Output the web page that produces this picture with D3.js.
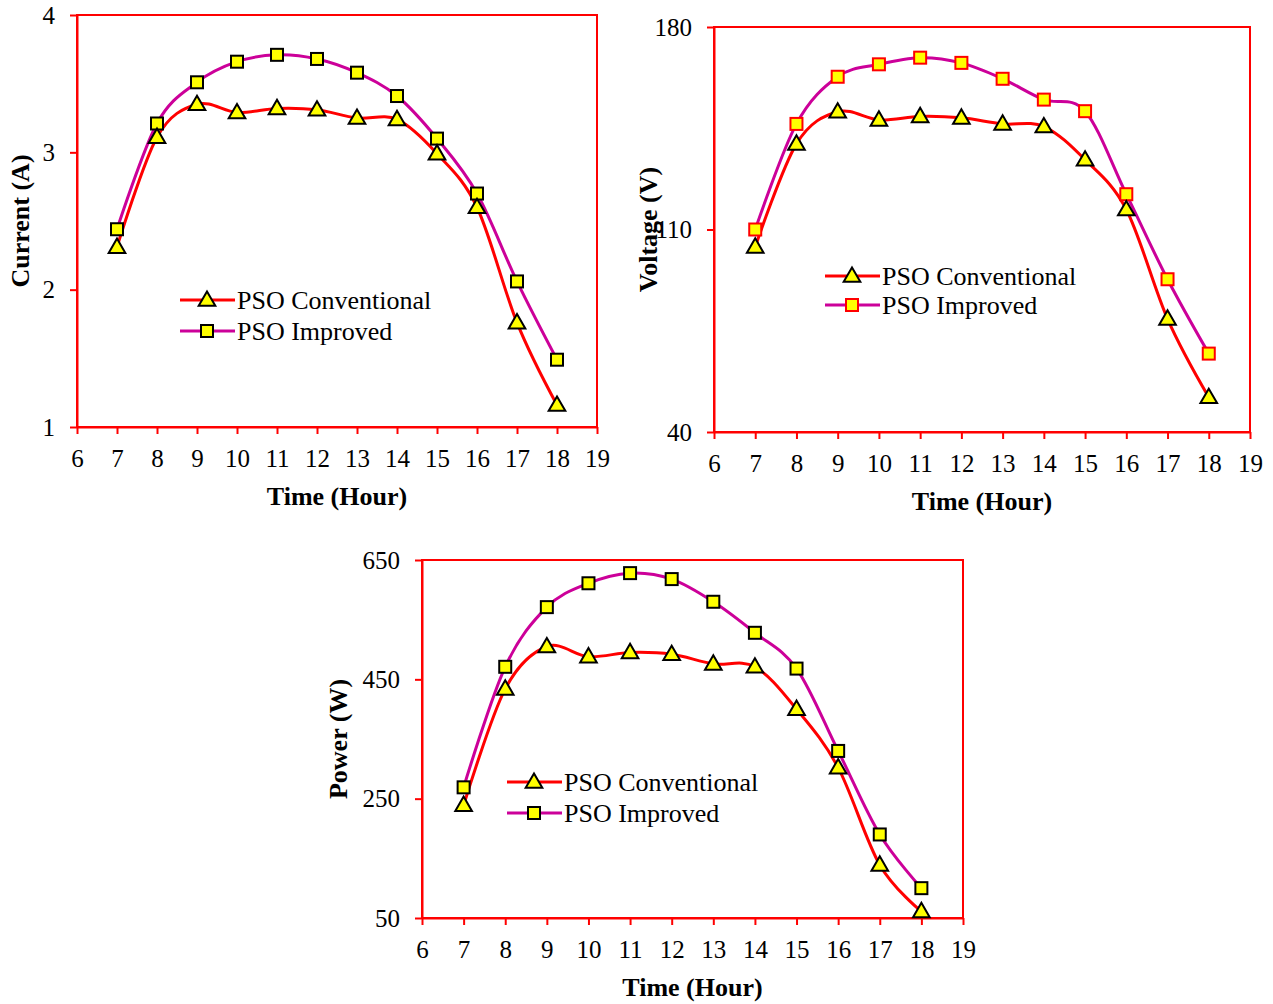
<!DOCTYPE html>
<html>
<head>
<meta charset="utf-8">
<script src="https://cdn.jsdelivr.net/npm/d3@7"></script>
<style>
  body { margin: 0; background: #fff; }
  svg { display: block; font-family: "Liberation Serif", "Times New Roman", serif; }
</style>
</head>
<body>
<svg id="chart" width="1273" height="1004"></svg>
<script>
const hours = [7, 8, 9, 10, 11, 12, 13, 14, 15, 16, 17, 18];
const xTicks = [6, 7, 8, 9, 10, 11, 12, 13, 14, 15, 16, 17, 18, 19];
const seriesNames = ["PSO Conventional", "PSO Improved"];

const currentConv = [2.31, 3.11, 3.35, 3.29, 3.32, 3.31, 3.25, 3.24, 2.99, 2.60, 1.76, 1.16];
const currentImp = [2.44, 3.21, 3.51, 3.66, 3.71, 3.68, 3.58, 3.41, 3.10, 2.70, 2.06, 1.49];
const currentTicks = [1, 2, 3, 4];

const voltageConv = [104.0, 139.6, 150.7, 147.9, 149.1, 148.6, 146.5, 145.6, 134.1, 116.9, 79.1, 52.0];
const voltageImp = [110.0, 146.5, 162.8, 167.1, 169.4, 167.6, 162.1, 154.9, 150.9, 122.2, 92.8, 67.1];
const voltageTicks = [40, 110, 180];

const powerConv = [239, 434, 505, 488, 495, 492, 476, 471, 400, 302, 139, 61];
const powerImp = [269, 471, 571, 611, 628, 618, 580, 528, 468, 330, 190, 100];
const powerTicks = [50, 250, 450, 650];

const svg = d3.select("#chart");
const red = "#ff0000";
const magenta = "#cc0099";

function drawChart(c) {
	const g = svg.append("g");
	const x = d3.scaleLinear().domain([6, 19]).range([c.left, c.right]);
	const y = d3.scaleLinear().domain([c.yTicks[0], c.yTicks[c.yTicks.length - 1]]).range([c.bottom, c.top]);

	// frame
	g.append("rect")
		.attr("x", c.left).attr("y", c.top)
		.attr("width", c.right - c.left).attr("height", c.bottom - c.top)
		.attr("fill", "none").attr("stroke", red).attr("stroke-width", 2);

	const xAxis = g.append("g")
		.attr("transform", `translate(0,${c.bottom})`)
		.call(d3.axisBottom(x).tickValues(xTicks).tickFormat(d3.format("d")).tickSize(7).tickSizeOuter(0).tickPadding(15));
	xAxis.select(".domain").attr("stroke", red).attr("stroke-width", 2);
	xAxis.selectAll(".tick line").attr("stroke", red).attr("stroke-width", 2);
	xAxis.selectAll("text").attr("fill", "#000").style("font-size", "25px").style("font-family", "Liberation Serif");

	const yAxis = g.append("g")
		.attr("transform", `translate(${c.left},0)`)
		.call(d3.axisLeft(y).tickValues(c.yTicks).tickFormat(d3.format("d")).tickSize(7).tickSizeOuter(0).tickPadding(15));
	yAxis.select(".domain").attr("stroke", red).attr("stroke-width", 2);
	yAxis.selectAll(".tick line").attr("stroke", red).attr("stroke-width", 2);
	yAxis.selectAll("text").attr("fill", "#000").style("font-size", "25px").style("font-family", "Liberation Serif");

	g.append("text")
		.attr("x", (c.left + c.right) / 2).attr("y", c.bottom + 78)
		.attr("text-anchor", "middle")
		.style("font-size", "26px").style("font-weight", "bold")
		.text("Time (Hour)");

	g.append("text")
		.attr("transform", `translate(${c.left - c.titleOffset},${(c.top + c.bottom) / 2}) rotate(-90)`)
		.attr("text-anchor", "middle")
		.style("font-size", "26px").style("font-weight", "bold")
		.text(c.yTitle);

	const line = d3.line()
		.x((d, i) => x(hours[i]))
		.y(d => y(d))
		.curve(d3.curveCardinal.tension(0));

	g.append("path").datum(c.conv)
		.attr("d", line).attr("fill", "none").attr("stroke", red).attr("stroke-width", 3);
	g.append("path").datum(c.imp)
		.attr("d", line).attr("fill", "none").attr("stroke", magenta).attr("stroke-width", 3);

	const tri = d3.symbol().type(d3.symbolTriangle).size(120);

	g.selectAll(".sq").data(c.imp).enter().append("rect")
		.attr("x", (d, i) => x(hours[i]) - 6)
		.attr("y", d => y(d) - 6)
		.attr("width", 12).attr("height", 12)
		.attr("fill", "#ffff00").attr("stroke", c.squareStroke).attr("stroke-width", 2);

	g.selectAll(".tri").data(c.conv).enter().append("path")
		.attr("d", tri)
		.attr("transform", (d, i) => `translate(${x(hours[i])},${y(d) + 1})`)
		.attr("fill", "#ffff00").attr("stroke", "#000").attr("stroke-width", 2);

	// legend
	const lg = g.append("g").attr("transform", `translate(${c.legX},${c.legY})`);
	seriesNames.forEach((name, i) => {
		const row = lg.append("g").attr("transform", `translate(0,${i * c.legGap})`);
		row.append("line").attr("x1", 0).attr("x2", 55).attr("y1", 0).attr("y2", 0)
			.attr("stroke", i === 0 ? red : magenta).attr("stroke-width", 3);
		if (i === 0) {
			row.append("path").attr("d", tri).attr("transform", "translate(27,1)")
				.attr("fill", "#ffff00").attr("stroke", "#000").attr("stroke-width", 2);
		} else {
			row.append("rect").attr("x", 21).attr("y", -6).attr("width", 12).attr("height", 12)
				.attr("fill", "#ffff00").attr("stroke", c.squareStroke).attr("stroke-width", 2);
		}
		row.append("text").attr("x", 57).attr("y", 9)
			.style("font-size", "26px").text(name);
	});
}

drawChart({
	left: 77, right: 597, top: 15, bottom: 427,
	yTicks: currentTicks, yTitle: "Current (A)", titleOffset: 48,
	conv: currentConv, imp: currentImp, squareStroke: "#000",
	legX: 180, legY: 300, legGap: 31
});

drawChart({
	left: 714, right: 1250, top: 27, bottom: 432,
	yTicks: voltageTicks, yTitle: "Voltage (V)", titleOffset: 57,
	conv: voltageConv, imp: voltageImp, squareStroke: red,
	legX: 825, legY: 276, legGap: 29
});

drawChart({
	left: 422, right: 963, top: 560, bottom: 918,
	yTicks: powerTicks, yTitle: "Power (W)", titleOffset: 75,
	conv: powerConv, imp: powerImp, squareStroke: "#000",
	legX: 507, legY: 782, legGap: 31
});
</script>
</body>
</html>
